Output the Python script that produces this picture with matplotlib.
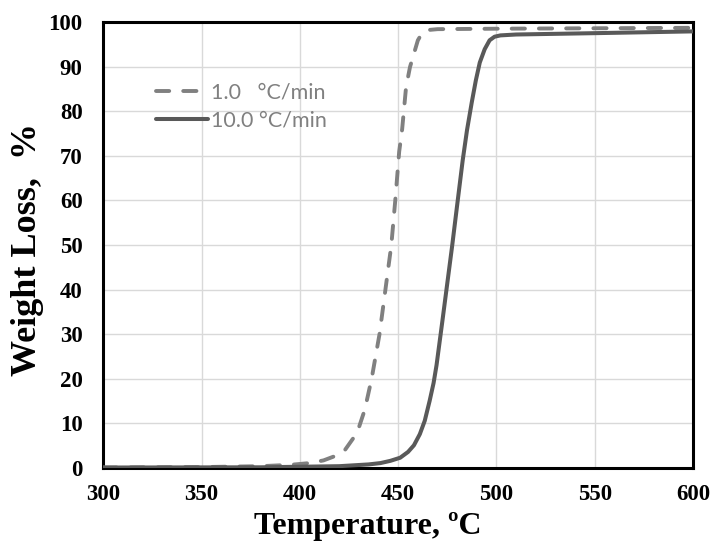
import matplotlib
matplotlib.use("Agg")
import matplotlib.pyplot as plt

# ---- data ----
temp_1 = [300, 350, 380, 395, 405, 412, 418, 423, 427, 430, 433, 436.5, 440.5,
          443.5, 446.5, 448.5, 450.5, 452, 454, 456, 458, 460, 462, 465, 470,
          500, 550, 600]
loss_1 = [0, 0.1, 0.3, 0.6, 1.0, 1.6, 2.6, 4, 6.5, 9, 13, 20, 30,
          40, 50, 60, 71, 76, 85.5, 90, 93, 96, 97.5, 98.3, 98.5,
          98.6, 98.7, 98.8]

temp_10 = [300, 380, 420, 435, 441, 446, 451, 455, 458, 461, 463.5, 466, 468,
           469.5, 471, 472.5, 475, 477.5, 480, 482.8, 485, 487.4, 489.5, 491.5,
           494, 496.5, 499, 502, 510, 550, 600]
loss_10 = [0, 0.05, 0.3, 0.7, 1.0, 1.5, 2.2, 3.5, 5, 7.5, 10.5, 15, 19,
           23, 28, 33, 41.5, 50, 59, 69, 75.8, 82, 87, 91,
           94, 96, 96.8, 97.1, 97.3, 97.6, 98.0]

series_labels = ["1.0   \u00b0C/min", "10.0 \u00b0C/min"]
x_ticks = [300, 350, 400, 450, 500, 550, 600]
y_ticks = [0, 10, 20, 30, 40, 50, 60, 70, 80, 90, 100]
x_label = "Temperature, \u00baC"
y_label = "Weight Loss,  %"

fig = plt.figure(figsize=(7.13, 5.47), dpi=100)
ax = fig.add_axes([0.145, 0.1453, 0.827, 0.8136])

ax.plot(temp_1, loss_1, color="#808080", lw=2.8, linestyle=(0, (3.4, 3.6)),
        dash_capstyle="round", dash_joinstyle="round", label=series_labels[0], zorder=3)
ax.plot(temp_10, loss_10, color="#595959", lw=2.9, solid_capstyle="round",
        solid_joinstyle="round", label=series_labels[1], zorder=4)

ax.set_xlim(300, 600)
ax.set_ylim(0, 100)
ax.set_xticks(x_ticks)
ax.set_yticks(y_ticks)
ax.grid(True, color="#d9d9d9", lw=1.0)
ax.set_axisbelow(True)
for s in ax.spines.values():
    s.set_linewidth(2.2)
    s.set_color("black")
ax.tick_params(axis="x", length=0, pad=12)
ax.tick_params(axis="y", length=0, pad=15)
for lab in ax.get_xticklabels() + ax.get_yticklabels():
    lab.set_fontfamily("Liberation Serif")
    lab.set_fontweight("bold")
    lab.set_fontsize(16.5)

ax.set_xlabel(x_label, fontfamily="Liberation Serif", fontweight="bold", fontsize=23)
ax.set_ylabel(y_label, fontfamily="Liberation Serif", fontweight="bold", fontsize=26)
ax.xaxis.set_label_coords(0.449, -0.1)
ax.yaxis.set_label_coords(-0.1, 0.489)

leg = ax.legend(loc="upper left", bbox_to_anchor=(0.075, 0.885), frameon=False,
                prop={"family": "Lato", "size": 15.5}, handlelength=2.4,
                handletextpad=0.15, labelspacing=0.38, borderaxespad=0)
for t in leg.get_texts():
    t.set_color("#808080")

fig.savefig("out.png", dpi=100)
